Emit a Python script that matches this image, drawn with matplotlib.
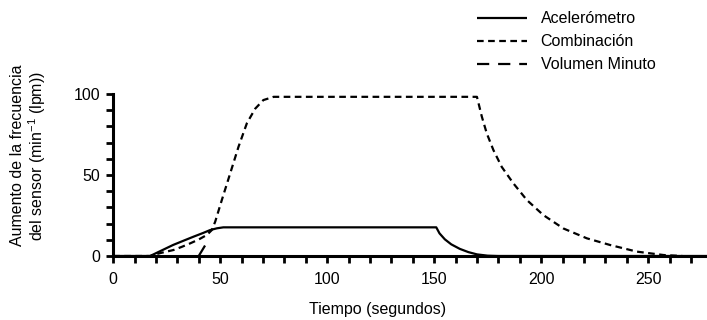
import matplotlib
matplotlib.use("Agg")
import matplotlib.pyplot as plt

plt.rcParams['font.family'] = ['Liberation Sans', 'DejaVu Sans']
plt.rcParams['mathtext.fontset'] = 'custom'
plt.rcParams['mathtext.rm'] = 'Liberation Sans'
plt.rcParams['mathtext.it'] = 'Liberation Sans'

# data (time in s, rate increase in min^-1)
acel_t = [0, 17.3, 22, 28, 33, 37.5, 42, 45.3, 48.5, 51.5, 151, 152.5, 155, 158, 162, 166, 170, 175, 180, 278]
acel_y = [0, 0, 3, 6.8, 9.5, 11.9, 14.2, 16, 17.1, 17.7, 17.7, 14, 10.3, 7.2, 4.4, 2.4, 1.0, 0.2, 0, 0]

comb_t = [0, 17.3, 22, 28.2, 32, 36, 40, 43.8, 46.1, 47.7, 50.8, 54.7, 58.6, 62.5, 66.4, 70.2, 75,
          170, 172.3, 174.6, 177.7, 181.6, 187, 193.3, 201, 210.4, 221.4, 232.2, 244.7, 257.2, 266]
comb_y = [0, 0, 1.8, 3.7, 5.6, 7.8, 10.2, 13, 16, 21.2, 34.6, 51, 67.5, 82, 91, 96.3, 98.3,
          98.3, 86, 75.7, 65.4, 55, 44.9, 34.6, 25.3, 17, 10.9, 6.8, 2.7, 0.6, 0]

vol_t = [40, 43.2]
vol_y = [0, 7]

labels = ["Acelerómetro", "Combinación", "Volumen Minuto"]

fig = plt.figure(figsize=(7.07, 3.2), dpi=100)
ax = fig.add_axes([0.16, 0.2, 0.84, 0.506])

lw = 1.6
ax.plot(acel_t, acel_y, color='black', lw=lw, solid_capstyle='butt', clip_on=False, label=labels[0])
ax.plot(comb_t, comb_y, color='black', lw=lw, dashes=(3, 2), clip_on=False, label=labels[1])
ax.plot(vol_t, vol_y, color='black', lw=lw, dashes=(5.5, 4), clip_on=False, label=labels[2])

ax.set_xlim(0, 277.5)
ax.set_ylim(0, 100)
ax.spines['top'].set_visible(False)
ax.spines['right'].set_visible(False)
for s in ['left', 'bottom']:
    ax.spines[s].set_linewidth(2.2)
ax.spines['left'].set_bounds(0, 100)

ax.set_xticks([0, 50, 100, 150, 200, 250])
ax.set_xticks(range(0, 280, 10), minor=True)
ax.set_yticks([0, 50, 100])
ax.set_yticks(range(0, 101, 10), minor=True)
ax.tick_params(which='both', direction='out', length=4.8, width=2, labelsize=11.5)
ax.tick_params(axis='x', pad=6.5)
ax.tick_params(axis='y', pad=4.5)

ax.set_xlabel("Tiempo (segundos)", fontsize=11.5)
ax.xaxis.set_label_coords(0.446, -0.285)
ax.set_ylabel("Aumento de la frecuencia\ndel sensor (min$^{-1}$ (lpm))", fontsize=11.5, linespacing=1.05)
ax.yaxis.set_label_coords(-0.11, 0.62)

fig.legend(loc='upper left', bbox_to_anchor=(0.655, 1.01), frameon=False, fontsize=11.5,
           handlelength=3.1, handletextpad=0.85, labelspacing=0.5)

fig.savefig("out.png", dpi=100)
